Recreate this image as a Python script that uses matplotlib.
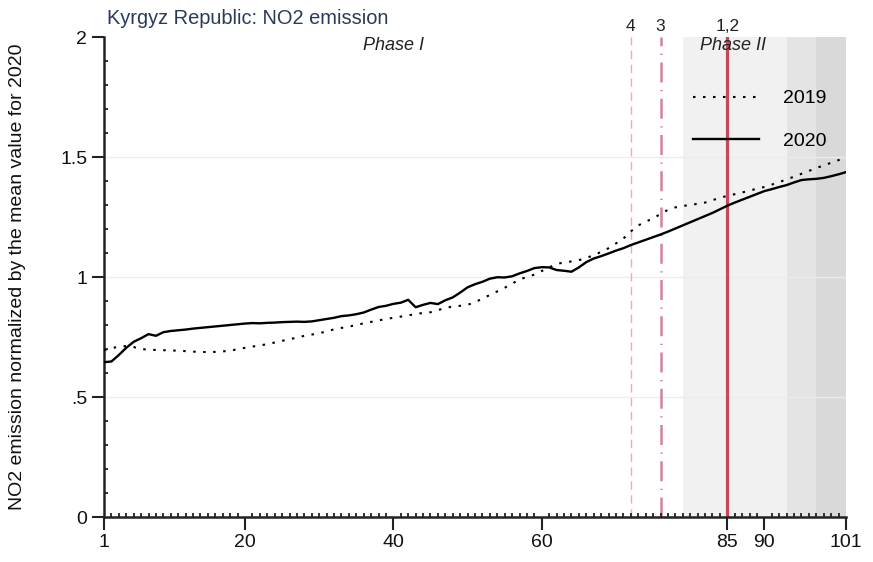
import matplotlib
matplotlib.use("Agg")
import matplotlib.pyplot as plt
import matplotlib.transforms as mtransforms
from matplotlib.ticker import MultipleLocator
import numpy as np

plt.rcParams['font.family'] = ['Liberation Sans', 'DejaVu Sans']

# ---------------- data ----------------
days = list(range(1, 102))

no2_2019 = [
    0.695, 0.703, 0.710, 0.712, 0.708, 0.700, 0.697, 0.696, 0.695, 0.694,
    0.693, 0.691, 0.689, 0.688, 0.687, 0.688, 0.690, 0.693, 0.699, 0.705,
    0.710, 0.715, 0.720, 0.727, 0.734, 0.741, 0.747, 0.755, 0.760, 0.766,
    0.773, 0.782, 0.788, 0.793, 0.800, 0.807, 0.813, 0.819, 0.825, 0.830,
    0.835, 0.840, 0.846, 0.850, 0.853, 0.862, 0.871, 0.877, 0.880, 0.884,
    0.895, 0.910, 0.925, 0.940, 0.955, 0.972, 0.990, 1.000, 1.010, 1.025,
    1.040, 1.055, 1.060, 1.065, 1.070, 1.080, 1.090, 1.105, 1.120, 1.140,
    1.160, 1.190, 1.215, 1.230, 1.245, 1.262, 1.280, 1.290, 1.296, 1.300,
    1.305, 1.310, 1.320, 1.330, 1.338, 1.345, 1.352, 1.360, 1.368, 1.375,
    1.385, 1.395, 1.407, 1.418, 1.430, 1.442, 1.454, 1.465, 1.476, 1.487,
    1.497,
]

no2_2020 = [
    0.645, 0.648, 0.675, 0.705, 0.730, 0.745, 0.762, 0.755, 0.770, 0.775,
    0.778, 0.781, 0.785, 0.788, 0.791, 0.794, 0.797, 0.800, 0.803, 0.806,
    0.808, 0.807, 0.809, 0.810, 0.812, 0.813, 0.814, 0.813, 0.815, 0.820,
    0.825, 0.830, 0.837, 0.840, 0.845, 0.852, 0.864, 0.875, 0.880, 0.888,
    0.893, 0.905, 0.874, 0.884, 0.892, 0.887, 0.903, 0.915, 0.935, 0.957,
    0.970, 0.980, 0.993, 0.999, 0.998, 1.003, 1.015, 1.025, 1.037, 1.041,
    1.040, 1.029, 1.026, 1.022, 1.040, 1.062, 1.077, 1.087, 1.098, 1.110,
    1.120, 1.133, 1.144, 1.155, 1.166, 1.177, 1.189, 1.202, 1.215, 1.228,
    1.241, 1.254, 1.267, 1.282, 1.297, 1.310, 1.322, 1.334, 1.346, 1.358,
    1.366, 1.375, 1.383, 1.394, 1.404, 1.407, 1.409, 1.413, 1.420, 1.428,
    1.437,
]

x_ticks = [1, 20, 40, 60, 85, 90, 101]
y_ticks = [0, 0.5, 1, 1.5, 2]
y_tick_labels = ["0", ".5", "1", "1.5", "2"]

# shaded periods (start, end)
shade_spans = [(79, 93), (93, 97), (97, 101)]
shade_colors = ["#f1f1f1", "#e4e4e4", "#d9d9d9"]

# event lines
event_days = [72, 76, 85]
event_labels = ["4", "3", "1,2"]

phase_labels = ["Phase I", "Phase II"]
phase_pos = [40, 85.8]

title = "Kyrgyz Republic: NO2 emission"
ylabel = "NO2 emission normalized by the mean value for 2020"

# ---------------- figure ----------------
W, H = 873, 562
fig = plt.figure(figsize=(W / 100, H / 100), dpi=100)
fig.patch.set_facecolor("white")
ax = fig.add_axes([104 / W, (H - 517) / H, 742 / W, 480 / H])
ax.set_xlim(1, 101)
ax.set_ylim(0, 2)

for (s, e), c in zip(shade_spans, shade_colors):
    ax.axvspan(s, e, color=c, lw=0, zorder=0)

for yv in [0.5, 1.0, 1.5]:
    ax.axhline(yv, color="#ececec", lw=1.0, zorder=0.5)

# event lines
ax.axvline(event_days[0], color="#eba9b9", lw=1.0, ls=(0, (6, 4)), zorder=1)
ax.axvline(event_days[1], color="#d48299", lw=1.8, ls=(0, (8, 3, 0.5, 3)), zorder=1)
ax.axvline(event_days[2], color="#c8475f", lw=2.3, zorder=1)

l19, = ax.plot(days, no2_2019, color="black", lw=1.5, ls=(0, (1.2, 3.6)), zorder=3, label="2019")
l20, = ax.plot(days, no2_2020, color="black", lw=1.7, zorder=3, label="2020")

# ticks
ax.set_xticks(x_ticks)
ax.set_xticklabels([str(t) for t in x_ticks])
ax.xaxis.set_minor_locator(MultipleLocator(1))
ax.set_yticks(y_ticks)
ax.set_yticklabels(y_tick_labels)
ax.yaxis.set_minor_locator(MultipleLocator(0.1))
ax.tick_params(axis="both", which="major", direction="out", length=9, width=1.5,
               labelsize=14, pad=3, color="#222222", labelcolor="#111111")
ax.tick_params(axis="both", which="minor", direction="in", length=3, width=1.3, color="#222222")

for side in ["top", "right"]:
    ax.spines[side].set_visible(False)
for side in ["left", "bottom"]:
    ax.spines[side].set_linewidth(1.8)
    ax.spines[side].set_color("#222222")

# event labels above plot
trans = mtransforms.offset_copy(ax.transData, fig=fig, x=0, y=2, units="points")
for d, lab in zip(event_days, event_labels):
    ax.text(d, 2.0, lab, ha="center", va="bottom", fontsize=12.5, color="#222222",
            transform=trans, clip_on=False)

for lab, pos in zip(phase_labels, phase_pos):
    ax.text(pos, 1.963, lab, ha="center", va="center", fontsize=13, style="italic",
            color="#222222", zorder=4)

leg = ax.legend(handles=[l19, l20], loc="upper left", bbox_to_anchor=(0.794, 0.89),
                frameon=False, fontsize=14, handlelength=3.4, handletextpad=1.2,
                labelspacing=1.3, borderpad=0, borderaxespad=0)

fig.text(107 / W, 1 - 19 / H, title, ha="left", va="center", fontsize=14.4, color="#2a3a5a")
fig.text(18 / W, 1 - 277 / H, ylabel, rotation=90, ha="center", va="center",
         fontsize=14, color="#111111")

fig.savefig("out.png", dpi=100)
